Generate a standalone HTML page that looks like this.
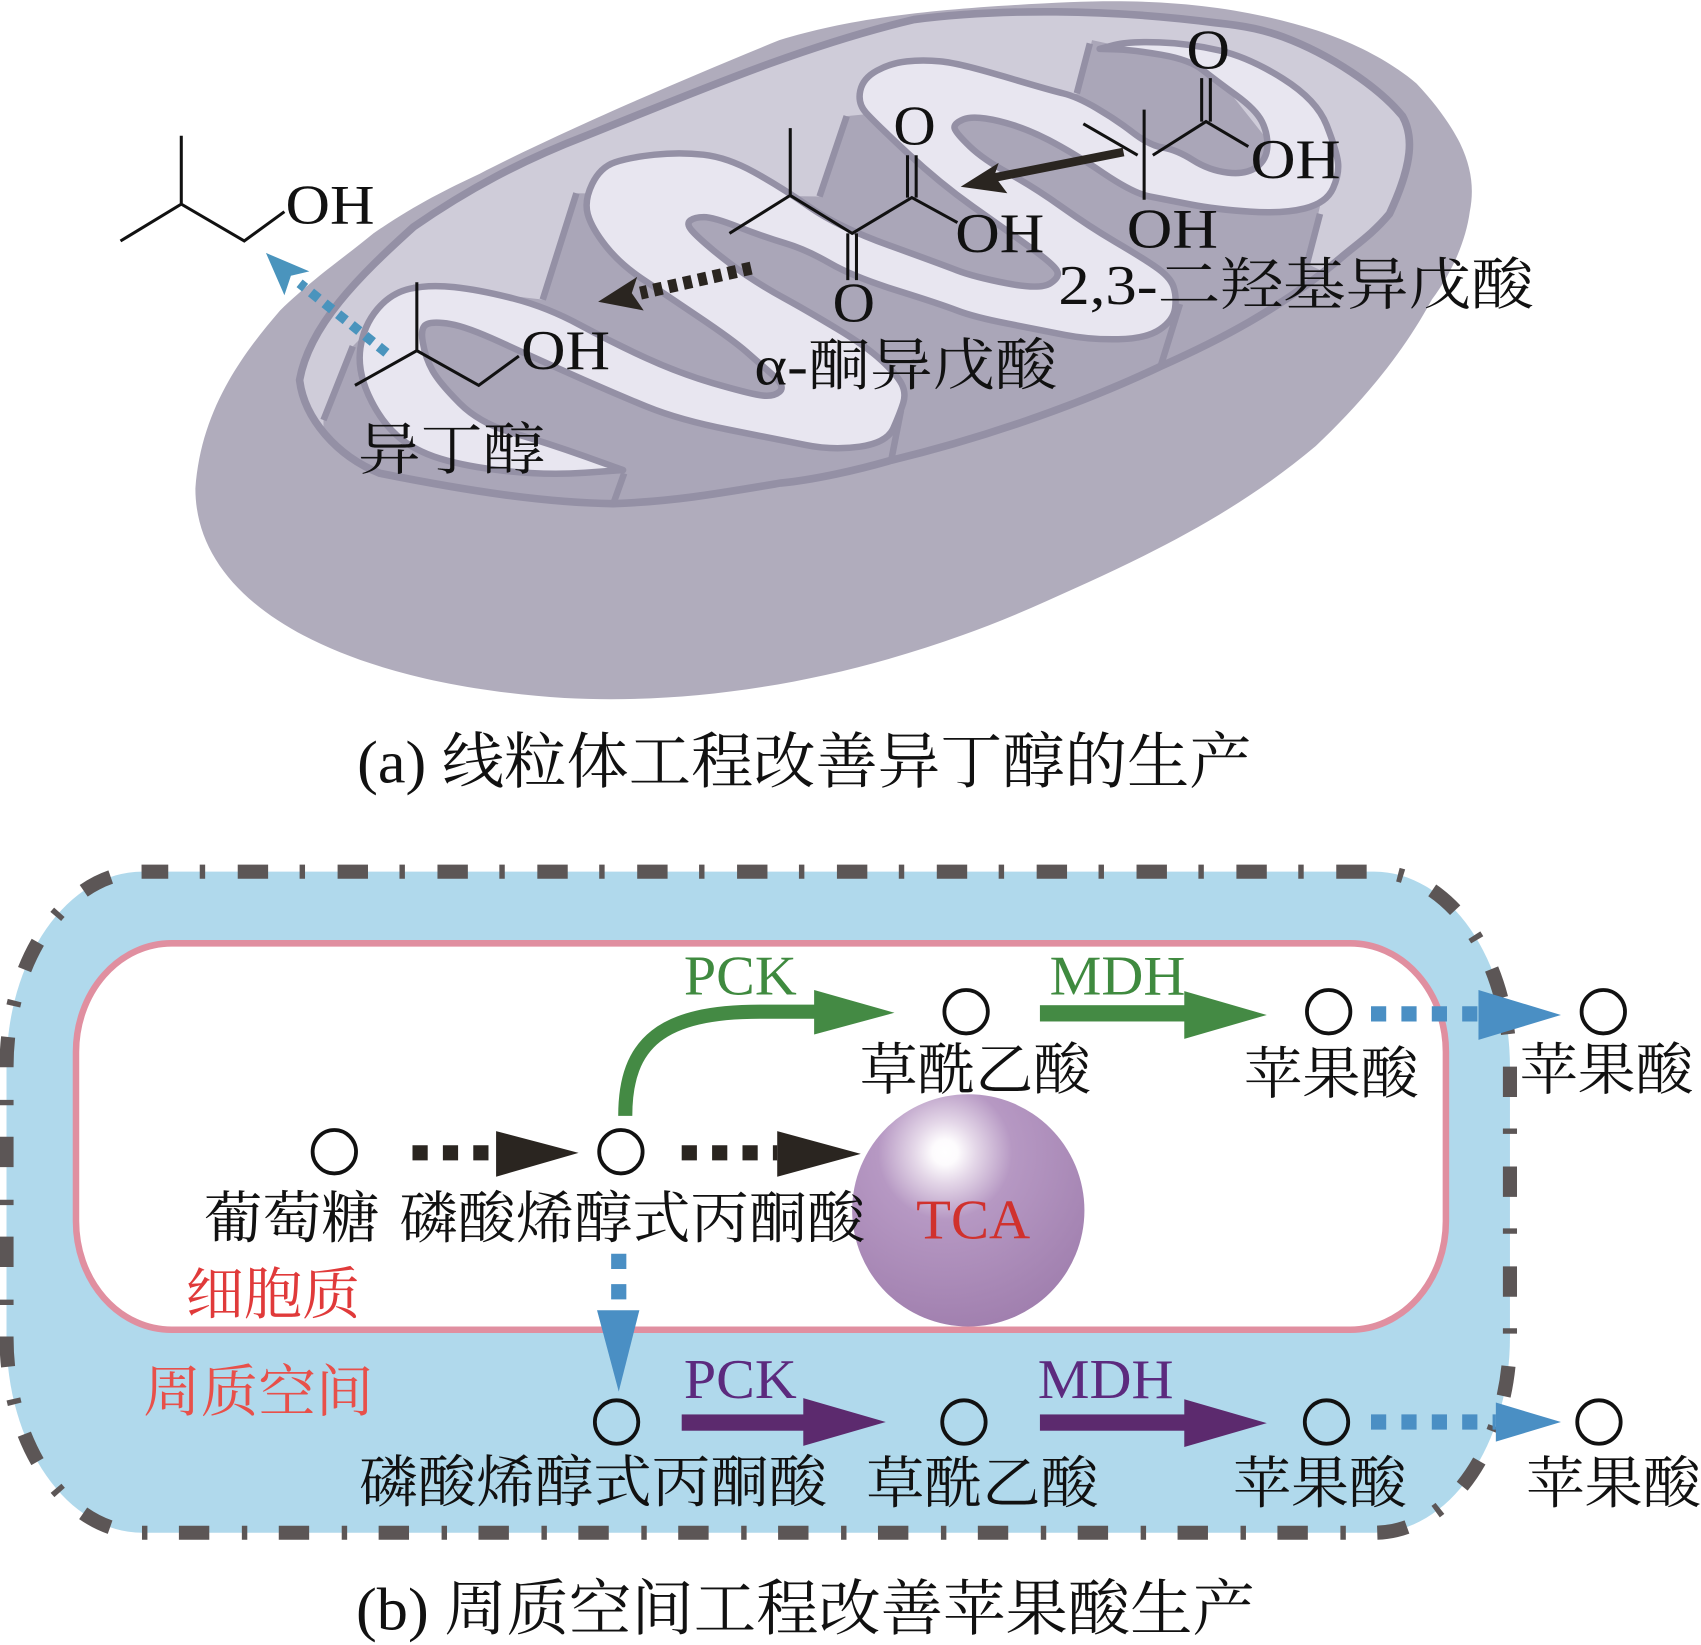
<!DOCTYPE html>
<html>
<head>
<meta charset="utf-8">
<style>
html,body{margin:0;padding:0;background:#fff;width:1701px;height:1645px;overflow:hidden}
svg{display:block}
text{font-family:"Liberation Serif","Noto Serif CJK SC",serif;fill:#111;font-size:52px}
</style>
</head>
<body>
<svg width="1701" height="1645" viewBox="0 0 1567 1515.4" xmlns="http://www.w3.org/2000/svg">
<defs>
<radialGradient id="s" cx="0.4" cy="0.25" r="0.78">
<stop offset="0" stop-color="#ffffff"/>
<stop offset="0.07" stop-color="#fdfbfd"/>
<stop offset="0.17" stop-color="#e4d7e8"/>
<stop offset="0.37" stop-color="#b698c3"/>
<stop offset="1" stop-color="#a07fae"/>
</radialGradient>
<clipPath id="fr">
<path d="M276 350 C285 300 330 255 381 209 C430 175 480 148 540 125 C640 85 740 42 842 18 C920 8 1020 8 1120 21 C1150 24 1165 28 1182 34 C1225 50 1270 80 1292 107 C1302 125 1302 150 1280 197 C1265 215 1250 225 1237 236 C1180 285 1120 315 1068 338 C990 375 900 405 821 424 C790 433 750 442 719 445 C660 455 620 462 565 464 C500 463 430 452 350 436 C310 420 280 385 276 350 Z"/>
</clipPath>
</defs>

<!-- mitochondrion -->
<path d="M180 450 C185 380 220 330 258 286 C290 255 320 235 344 215 C380 190 410 175 442 160 C500 130 600 85 718 37 C780 18 850 8 986 2 C1080 -2 1150 8 1213 28 C1255 42 1285 60 1305 77 C1325 98 1338 118 1345 132 C1356 155 1358 175 1354 195 C1350 225 1335 255 1319 276 C1290 330 1250 375 1212 411 C1130 480 1040 520 950 560 C800 625 650 650 520 643 C320 630 180 560 180 450 Z" fill="#b0acbc"/>
<path d="M276 350 C285 300 330 255 381 209 C430 175 480 148 540 125 C640 85 740 42 842 18 C920 8 1020 8 1120 21 C1150 24 1165 28 1182 34 C1225 50 1270 80 1292 107 C1302 125 1302 150 1280 197 C1265 215 1250 225 1237 236 C1180 285 1120 315 1068 338 C990 375 900 405 821 424 C790 433 750 442 719 445 C660 455 620 462 565 464 C500 463 430 452 350 436 C310 420 280 385 276 350 Z" fill="#cfccd9"/>
<path clip-path="url(#fr)" d="M298 500 L298 387 L325 319 L381 262 L500 276 L531 178 L755 181 L780 107 L994 86 L1006 37 L1113 60 L1216 190 L1204 243 L1240 260 L1068 400 L700 500 Z" fill="#aaa6b8"/>
<path d="M276 350 C285 300 330 255 381 209 C430 175 480 148 540 125 C640 85 740 42 842 18 C920 8 1020 8 1120 21 C1150 24 1165 28 1182 34 C1225 50 1270 80 1292 107 C1302 125 1302 150 1280 197 C1265 215 1250 225 1237 236 C1180 285 1120 315 1068 338 C990 375 900 405 821 424 C790 433 750 442 719 445 C660 455 620 462 565 464 C500 463 430 452 350 436 C310 420 280 385 276 350 Z" fill="none" stroke="#9490a5" stroke-width="7"/>
<path d="M298 387 L325 319 M500 276 L531 178 M755 181 L780 107 M992 86 L1004 40 M565 464 L575 436 M821 424 L830 378 M1069 338 L1087 280 M1204 243 L1216 197" stroke="#9490a5" stroke-width="6" fill="none"/>
<!-- serpentine cristae ribbon -->
<path fill="#e8e6f0" stroke="#9490a5" stroke-width="6" stroke-linejoin="round" d="M574 433 L539 435.5 Q504 438 467 434 Q430 430 405.5 422.5 Q381 415 365.5 401 Q350 387 339.5 364 Q329 341 332 320.5 Q335 300 347.5 285 Q360 270 377.5 266 Q395 262 418.5 264.5 Q442 267 473 275 Q504 283 534.5 299.5 Q565 316 595.5 330 Q626 344 657 353 Q688 362 700 364 Q712 366 718 361 Q724 356 712 345.5 Q700 335 687.5 324 Q675 313 643 291.5 Q611 270 591 256.5 Q571 243 558 226.5 Q545 210 541.5 197.5 Q538 185 545.5 169.5 Q553 154 566.5 149.5 Q580 145 603 142.5 Q626 140 648 142.5 Q670 145 694.5 158.5 Q719 172 745.5 190.5 Q772 209 819 226 Q866 243 881.5 249 Q897 255 927.5 261 Q958 267 967.5 261 Q977 255 973.5 249 Q970 243 948.5 227.5 Q927 212 896.5 190.5 Q866 169 835.5 140.5 Q805 112 797.5 103.5 Q790 95 792.5 83.5 Q795 72 808 65 Q821 58 835.5 56.5 Q850 55 866.5 56.5 Q883 58 925 70.5 Q967 83 979.5 86 Q992 89 1010 99.5 Q1028 110 1043.5 122 Q1059 134 1071.5 136 Q1084 138 1099 147.5 Q1114 157 1131 159 Q1148 161 1157.5 154 Q1167 147 1167.5 135 Q1168 123 1162.5 112 Q1157 101 1138.5 87.5 Q1120 74 1108 64.5 Q1096 55 1070 50.5 Q1044 46 1028.5 45.5 L1013 45 L1026.5 41.5 Q1040 38 1068 39 Q1096 40 1123.5 46.5 Q1151 53 1182 72.5 Q1213 92 1222 115 Q1231 138 1232.5 149 Q1234 160 1228 173.5 Q1222 187 1202 192 Q1182 197 1151.5 195 Q1121 193 1097.5 188.5 Q1074 184 1059 181 Q1044 178 1016.5 159.5 Q989 141 966 129 Q943 117 920 111.5 Q897 106 887.5 110 Q878 114 879.5 118.5 Q881 123 893.5 135 Q906 147 929 159.5 Q952 172 978 190.5 Q1004 209 1027 222.5 Q1050 236 1064 245.5 Q1078 255 1081 264 Q1084 273 1082.5 284 Q1081 295 1068.5 303.5 Q1056 312 1030 312.5 Q1004 313 981 308.5 Q958 304 927.5 298 Q897 292 881.5 286 Q866 280 826 267.5 Q786 255 764.5 242.5 Q743 230 723 224 Q703 218 680 209 Q657 200 648.5 200 Q640 200 636 203 Q632 206 637 212 Q642 218 657 230.5 Q672 243 687.5 253.5 Q703 264 723 275 Q743 286 770.5 302.5 Q798 319 812 332 Q826 345 830.5 353.5 Q835 362 832 371.5 Q829 381 823 394.5 Q817 408 792 411.5 Q767 415 742.5 410 Q718 405 672 396 Q626 387 595.5 374.5 Q565 362 528 345.5 Q491 329 460.5 315 Q430 301 415 298.5 Q400 296 393.5 298.5 Q387 301 389.5 315.5 Q392 330 398.5 341.5 Q405 353 423.5 371.5 Q442 390 473 399 Q504 408 539 420.5 L574 433 Z"/>

<!-- molecule lines -->
<g fill="none" stroke="#111" stroke-width="2.8">
<path d="M167 125 V188 M111 222 L167 188 L225 222 L262 195"/>
<path d="M384 260 V323 M327 355 L384 323 L441 355 L478 328"/>
<path d="M728 118 V180 M672 215 L728 180 L785 215 L840 182 L882 205"/>
<path d="M836 182 V143 M844 182 V143 M781 215 V258 M789 215 V258"/>
<path d="M1054 101 V184 M998 114 L1048 143 M1062 143 L1111 112 L1150 135"/>
<path d="M1107 112 V72 M1115 112 V72"/>
</g>
<text x="263" y="206" textLength="82" lengthAdjust="spacingAndGlyphs">OH</text>
<text x="480" y="340" textLength="82" lengthAdjust="spacingAndGlyphs">OH</text>
<text x="880" y="232" textLength="82" lengthAdjust="spacingAndGlyphs">OH</text>
<text x="1152" y="164" textLength="83" lengthAdjust="spacingAndGlyphs">OH</text>
<text x="1038" y="228" textLength="84" lengthAdjust="spacingAndGlyphs">OH</text>
<text x="823" y="133" textLength="39" lengthAdjust="spacingAndGlyphs">O</text>
<text x="767" y="296" textLength="39" lengthAdjust="spacingAndGlyphs">O</text>
<text x="1093" y="63" textLength="40" lengthAdjust="spacingAndGlyphs">O</text>
<text x="330" y="432" textLength="172" lengthAdjust="spacingAndGlyphs">异丁醇</text>
<text x="695" y="354" textLength="279" lengthAdjust="spacingAndGlyphs">α-酮异戊酸</text>
<text x="975" y="280" textLength="438" lengthAdjust="spacingAndGlyphs">2,3-二羟基异戊酸</text>

<!-- mito arrows -->
<path d="M1035 140 L914 164" stroke="#2a2520" stroke-width="8" fill="none"/>
<polygon points="920,150 885,172 928,178 916,162" fill="#2a2520"/>
<path d="M692 247 L590 270" stroke="#2a2520" stroke-width="12" stroke-dasharray="8 6" fill="none"/>
<polygon points="587,255 551,278 593,286 582,270" fill="#2a2520"/>
<path d="M356 325 L276 261" stroke="#4a94bd" stroke-width="9" stroke-dasharray="9 7" fill="none"/>
<polygon points="245,233 285,250 268,254 262,272" fill="#4a94bd"/>

<text x="329" y="721" textLength="824" lengthAdjust="spacingAndGlyphs" style="font-size:56px">(a) 线粒体工程改善异丁醇的生产</text>

<!-- cell -->
<rect x="6" y="803" width="1385" height="609" rx="125" ry="180" fill="#b0d9ec" stroke="#5c5656" stroke-width="13" stroke-dasharray="28 29 5 30" stroke-dashoffset="4"/>
<rect x="70" y="869" width="1262" height="356" rx="88" ry="100" fill="#fff" stroke="#e08fa0" stroke-width="6"/>

<circle cx="892" cy="1115" r="107" fill="url(#s)"/>

<!-- circles -->
<g fill="none" stroke="#111" stroke-width="3.5">
<circle cx="308" cy="1061" r="20"/><circle cx="572" cy="1061" r="20"/>
<circle cx="890" cy="932" r="20"/><circle cx="1224" cy="932" r="20"/><circle cx="1477" cy="932" r="20"/>
<circle cx="568" cy="1310" r="20"/><circle cx="888" cy="1310" r="20"/><circle cx="1222" cy="1310" r="20"/><circle cx="1473" cy="1310" r="20"/>
</g>

<!-- arrows -->
<path d="M576 1028 C576 960 610 932 700 932 L755 932" fill="none" stroke="#448a44" stroke-width="13"/>
<polygon points="750,912 824,933 750,953" fill="#448a44"/>
<rect x="958" y="926" width="135" height="15" fill="#448a44"/>
<polygon points="1091,913 1167,935 1091,957" fill="#448a44"/>
<path d="M1263 934 H1365" stroke="#4a8fc4" stroke-width="14" stroke-dasharray="14 14" fill="none"/>
<polygon points="1362,912 1438,935 1362,958" fill="#4a8fc4"/>

<path d="M380 1062 H456" stroke="#2a2520" stroke-width="14" stroke-dasharray="14 14" fill="none"/>
<polygon points="457,1042 533,1062 457,1084" fill="#2a2520"/>
<path d="M628 1062 H716" stroke="#2a2520" stroke-width="14" stroke-dasharray="14 14" fill="none"/>
<polygon points="716,1042 793,1063 716,1084" fill="#2a2520"/>

<path d="M570 1155 V1200" stroke="#4a8fc4" stroke-width="14" stroke-dasharray="14 14" fill="none"/>
<polygon points="550,1207 589,1207 570,1282" fill="#4a8fc4"/>

<rect x="628" y="1303" width="114" height="15" fill="#5c2a6e"/>
<polygon points="740,1288 816,1310 740,1332" fill="#5c2a6e"/>
<rect x="958" y="1303" width="135" height="15" fill="#5c2a6e"/>
<polygon points="1091,1289 1167,1311 1091,1333" fill="#5c2a6e"/>
<path d="M1263 1310 H1378" stroke="#4a8fc4" stroke-width="14" stroke-dasharray="14 14" fill="none"/>
<polygon points="1378,1292 1438,1310 1378,1328" fill="#4a8fc4"/>

<!-- cell labels -->
<text x="630" y="916" textLength="104" lengthAdjust="spacingAndGlyphs" style="fill:#3f8a3f">PCK</text>
<text x="967" y="916" textLength="125" lengthAdjust="spacingAndGlyphs" style="fill:#3f8a3f">MDH</text>
<text x="630" y="1288" textLength="104" lengthAdjust="spacingAndGlyphs" style="fill:#5c2a7e">PCK</text>
<text x="956" y="1288" textLength="125" lengthAdjust="spacingAndGlyphs" style="fill:#5c2a7e">MDH</text>
<text x="792" y="1003" textLength="213" lengthAdjust="spacingAndGlyphs">草酰乙酸</text>
<text x="1146" y="1007" textLength="161" lengthAdjust="spacingAndGlyphs">苹果酸</text>
<text x="1400" y="1003" textLength="160" lengthAdjust="spacingAndGlyphs">苹果酸</text>
<text x="188" y="1140" textLength="162" lengthAdjust="spacingAndGlyphs">葡萄糖</text>
<text x="368" y="1140" textLength="429" lengthAdjust="spacingAndGlyphs">磷酸烯醇式丙酮酸</text>
<text x="844" y="1141" textLength="105" lengthAdjust="spacingAndGlyphs" style="fill:#d0312d">TCA</text>
<text x="171" y="1210" textLength="161" lengthAdjust="spacingAndGlyphs" style="fill:#e03a3a">细胞质</text>
<text x="132" y="1300" textLength="212" lengthAdjust="spacingAndGlyphs" style="fill:#e8504a">周质空间</text>
<text x="331" y="1383" textLength="431" lengthAdjust="spacingAndGlyphs">磷酸烯醇式丙酮酸</text>
<text x="798" y="1384" textLength="214" lengthAdjust="spacingAndGlyphs">草酰乙酸</text>
<text x="1136" y="1384" textLength="160" lengthAdjust="spacingAndGlyphs">苹果酸</text>
<text x="1406" y="1384" textLength="161" lengthAdjust="spacingAndGlyphs">苹果酸</text>
<text x="328" y="1501" textLength="828" lengthAdjust="spacingAndGlyphs" style="font-size:56px">(b) 周质空间工程改善苹果酸生产</text>
</svg>
</body>
</html>
